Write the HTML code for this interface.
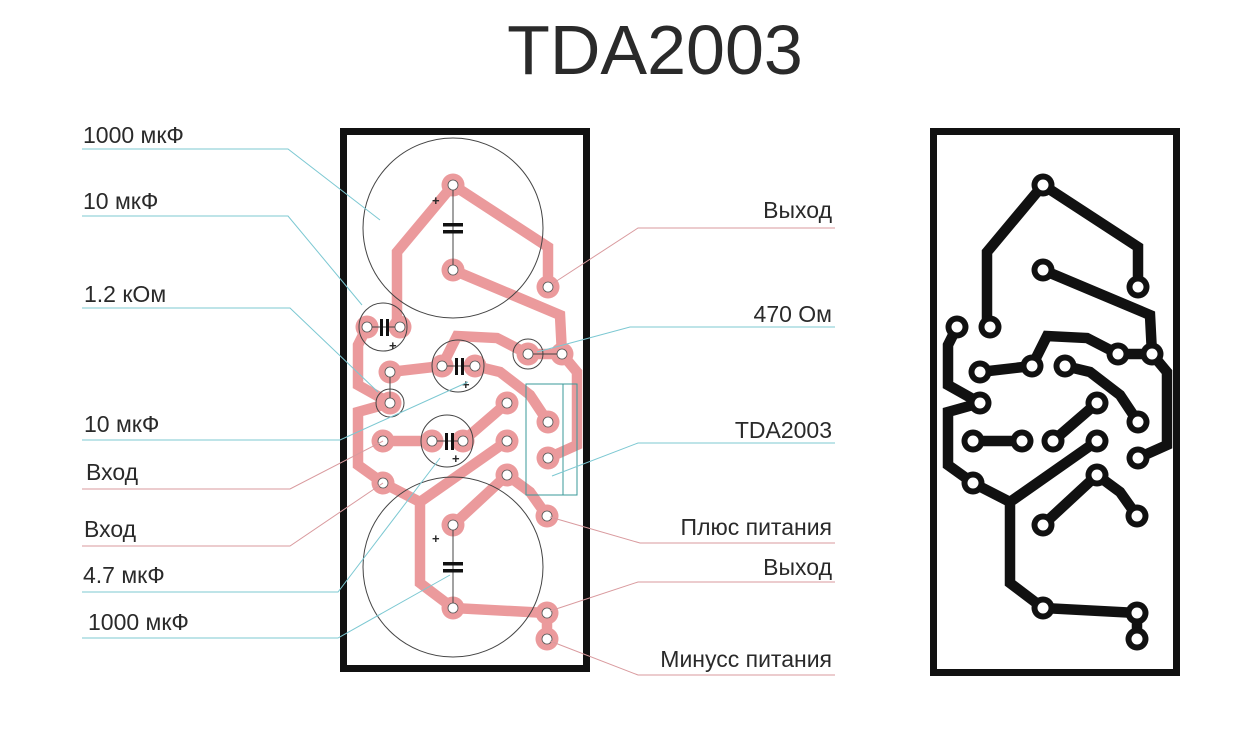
<!DOCTYPE html>
<html><head><meta charset="utf-8"><style>
html,body{margin:0;padding:0;background:#fff;width:1240px;height:729px;overflow:hidden}
svg{display:block}
text{font-family:"Liberation Sans",sans-serif;fill:#2a2a2a}
</style></head><body>
<svg width="1240" height="729" viewBox="0 0 1240 729" xmlns="http://www.w3.org/2000/svg">
<defs>
<g id="traces" fill="none" stroke-width="10.5" stroke-linejoin="miter">
<path d="M453,185 L397,252 L397,327"/>
<path d="M453,185 L548,247 L548,287"/>
<path d="M453,270 L560,315 L562,354 L577,372 L577,445 L548,458"/>
<path d="M528,354 L497,338 L457,336 L442,366"/>
<path d="M475,366 L500,372 L530,395 L548,422"/>
<path d="M390,372 L442,366"/>
<path d="M367,327 L358,345 L358,385 L390,403"/>
<path d="M390,403 L358,412 L358,465 L383,483 L420,502"/>
<path d="M507,441 L420,502 L420,583 L453,608 L547,613 L547,639"/>
<path d="M383,441 L432,441"/>
<path d="M463,441 L507,403"/>
<path d="M453,525 L507,475 L530,492 L547,516"/>
<path d="M528,354 L562,354"/>
</g>
<g id="pads">
<circle cx="453" cy="185" r="11.5"/><circle cx="453" cy="270" r="11.5"/><circle cx="548" cy="287" r="11.5"/>
<circle cx="367" cy="327" r="11.5"/><circle cx="400" cy="327" r="11.5"/><circle cx="528" cy="354" r="11.5"/>
<circle cx="562" cy="354" r="11.5"/><circle cx="442" cy="366" r="11.5"/><circle cx="475" cy="366" r="11.5"/>
<circle cx="390" cy="372" r="11.5"/><circle cx="390" cy="403" r="11.5"/><circle cx="507" cy="403" r="11.5"/>
<circle cx="548" cy="422" r="11.5"/><circle cx="383" cy="441" r="11.5"/><circle cx="432" cy="441" r="11.5"/>
<circle cx="463" cy="441" r="11.5"/><circle cx="507" cy="441" r="11.5"/><circle cx="548" cy="458" r="11.5"/>
<circle cx="383" cy="483" r="11.5"/><circle cx="507" cy="475" r="11.5"/><circle cx="453" cy="525" r="11.5"/>
<circle cx="547" cy="516" r="11.5"/><circle cx="453" cy="608" r="11.5"/><circle cx="547" cy="613" r="11.5"/>
<circle cx="547" cy="639" r="11.5"/>
</g>
</defs>

<text x="655" y="74" font-size="70" text-anchor="middle" fill="#1e1e1e">TDA2003</text>

<rect x="343.5" y="131.5" width="243" height="537" fill="none" stroke="#111" stroke-width="7"/>
<use href="#traces" stroke="#eb9a9c"/>
<use href="#pads" fill="#eb9a9c"/>
<g fill="#fff" stroke="#555" stroke-width="0.8">
<circle cx="453" cy="185" r="5"/><circle cx="453" cy="270" r="5"/><circle cx="548" cy="287" r="5"/>
<circle cx="367" cy="327" r="5"/><circle cx="400" cy="327" r="5"/><circle cx="528" cy="354" r="5"/>
<circle cx="562" cy="354" r="5"/><circle cx="442" cy="366" r="5"/><circle cx="475" cy="366" r="5"/>
<circle cx="390" cy="372" r="5"/><circle cx="390" cy="403" r="5"/><circle cx="507" cy="403" r="5"/>
<circle cx="548" cy="422" r="5"/><circle cx="383" cy="441" r="5"/><circle cx="432" cy="441" r="5"/>
<circle cx="463" cy="441" r="5"/><circle cx="507" cy="441" r="5"/><circle cx="548" cy="458" r="5"/>
<circle cx="383" cy="483" r="5"/><circle cx="507" cy="475" r="5"/><circle cx="453" cy="525" r="5"/>
<circle cx="547" cy="516" r="5"/><circle cx="453" cy="608" r="5"/><circle cx="547" cy="613" r="5"/>
<circle cx="547" cy="639" r="5"/>
</g>
<g fill="none" stroke="#444" stroke-width="1">
<circle cx="453" cy="228" r="90"/>
<circle cx="453" cy="567" r="90"/>
<circle cx="383" cy="327" r="24"/>
<circle cx="458" cy="366" r="26"/>
<circle cx="447" cy="441" r="26"/>
<circle cx="528" cy="354" r="15"/>
<circle cx="390" cy="403" r="14"/>
<line x1="453" y1="190" x2="453" y2="265"/>
<line x1="453" y1="530" x2="453" y2="603"/>
<line x1="372" y1="327" x2="395" y2="327"/>
<line x1="447" y1="366" x2="470" y2="366"/>
<line x1="437" y1="441" x2="458" y2="441"/>
<line x1="533" y1="354" x2="557" y2="354"/>
<line x1="390" y1="377" x2="390" y2="398"/>
</g>
<g fill="none" stroke="#3a9a9a" stroke-width="1">
<rect x="526" y="384" width="51" height="111"/>
<line x1="563" y1="384" x2="563" y2="495"/>
</g>
<g fill="#111">
<rect x="443" y="223" width="20" height="3.5"/><rect x="443" y="230" width="20" height="3.5"/>
<rect x="443" y="562" width="20" height="3.5"/><rect x="443" y="569" width="20" height="3.5"/>
<rect x="380" y="319" width="3" height="17"/><rect x="386" y="319" width="3" height="17"/>
<rect x="455" y="358" width="3" height="17"/><rect x="461" y="358" width="3" height="17"/>
<rect x="445" y="433" width="3" height="17"/><rect x="451" y="433" width="3" height="17"/>
</g>
<g font-size="13" font-weight="bold">
<text x="432" y="205">+</text><text x="432" y="543">+</text>
<text x="389" y="350">+</text><text x="462" y="389">+</text><text x="452" y="463">+</text>
</g>

<g fill="none" stroke-width="1">
<g stroke="#7cc8d2">
<polyline points="82,149 288,149 380,220"/>
<polyline points="82,216 288,216 362,305"/>
<polyline points="82,308 290,308 378,392"/>
<polyline points="82,440 340,440 468,382"/>
<polyline points="82,592 338,592 440,458"/>
<polyline points="82,638 338,638 450,575"/>
<polyline points="835,327 630,327 537,352"/>
<polyline points="835,443 638,443 552,476"/>
</g>
<g stroke="#d99a9e">
<polyline points="82,489 290,489 383,441"/>
<polyline points="82,546 290,546 383,483"/>
<polyline points="835,228 638,228 552,284"/>
<polyline points="835,543 640,543 550,517"/>
<polyline points="835,582 638,582 550,611"/>
<polyline points="835,675 638,675 550,641"/>
</g>
</g>
<g font-size="23">
<text x="83" y="143">1000 мкФ</text>
<text x="83" y="209">10 мкФ</text>
<text x="84" y="302">1.2 кОм</text>
<text x="84" y="432">10 мкФ</text>
<text x="86" y="480">Вход</text>
<text x="84" y="537">Вход</text>
<text x="83" y="583">4.7 мкФ</text>
<text x="88" y="630">1000 мкФ</text>
<g text-anchor="end">
<text x="832" y="218">Выход</text>
<text x="832" y="322">470 Ом</text>
<text x="832" y="438">TDA2003</text>
<text x="832" y="535">Плюс питания</text>
<text x="832" y="575">Выход</text>
<text x="832" y="667">Минусс питания</text>
</g>
</g>

<rect x="933.5" y="131.5" width="243" height="541" fill="none" stroke="#111" stroke-width="7"/>
<g transform="translate(590,0)">
<use href="#traces" stroke="#111"/>
<use href="#pads" fill="#111"/>
<g fill="#fff">
<circle cx="453" cy="185" r="5.5"/><circle cx="453" cy="270" r="5.5"/><circle cx="548" cy="287" r="5.5"/>
<circle cx="367" cy="327" r="5.5"/><circle cx="400" cy="327" r="5.5"/><circle cx="528" cy="354" r="5.5"/>
<circle cx="562" cy="354" r="5.5"/><circle cx="442" cy="366" r="5.5"/><circle cx="475" cy="366" r="5.5"/>
<circle cx="390" cy="372" r="5.5"/><circle cx="390" cy="403" r="5.5"/><circle cx="507" cy="403" r="5.5"/>
<circle cx="548" cy="422" r="5.5"/><circle cx="383" cy="441" r="5.5"/><circle cx="432" cy="441" r="5.5"/>
<circle cx="463" cy="441" r="5.5"/><circle cx="507" cy="441" r="5.5"/><circle cx="548" cy="458" r="5.5"/>
<circle cx="383" cy="483" r="5.5"/><circle cx="507" cy="475" r="5.5"/><circle cx="453" cy="525" r="5.5"/>
<circle cx="547" cy="516" r="5.5"/><circle cx="453" cy="608" r="5.5"/><circle cx="547" cy="613" r="5.5"/>
<circle cx="547" cy="639" r="5.5"/>
</g>
</g>
</svg>
</body></html>
